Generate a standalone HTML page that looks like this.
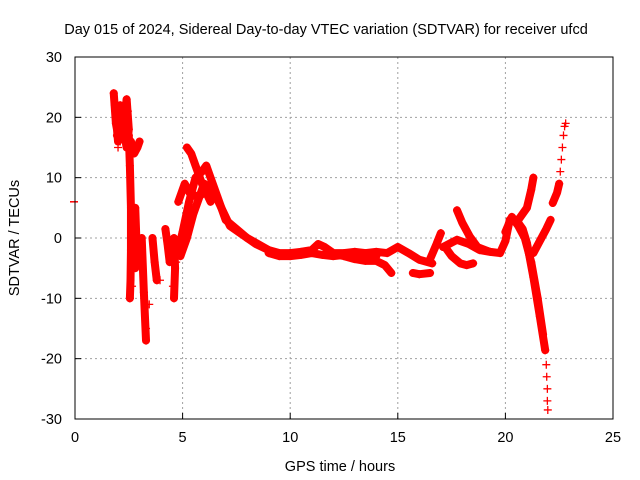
<!DOCTYPE html>
<html><head><meta charset="utf-8"><style>
body{margin:0;background:#fff}
svg{display:block;font-family:"Liberation Sans",sans-serif}
</style></head><body>
<svg id="chart" width="640" height="480" viewBox="0 0 640 480">
<rect width="640" height="480" fill="#fff"/>
<text x="326" y="34" font-size="14.5" text-anchor="middle">Day 015 of 2024, Sidereal Day-to-day VTEC variation (SDTVAR) for receiver ufcd</text>
<g id="grid"></g>
<g id="ticks"></g>
<g id="marks"></g>
<rect x="75" y="57" width="538" height="362" fill="none" stroke="#000" stroke-width="1"/>
<text x="340" y="471" font-size="14.5" text-anchor="middle">GPS time / hours</text>
<text transform="translate(19,238) rotate(-90)" font-size="14.5" text-anchor="middle">SDTVAR / TECUs</text>
</svg>
<script>
const xTicks=[0,5,10,15,20,25];
const yTicks=[-30,-20,-10,0,10,20,30];
const t1=[1.8,1.9,2.0,2.1,2.2,2.3,2.4,2.5,2.4,2.2,2.0,1.9,1.85,2.1,2.3,2.45,2.2,1.95];
const v1=[24,19,17,22,18,20,23,18,15,19,16,20,22,18,17,21,21,17];
const t2=[2.5,2.55,2.6,2.6,2.58,2.55];
const v2=[17,12,5,-2,-7,-10];
const t3=[2.6,2.75,2.9,3.0];
const v3=[16,14,15,16];
const t4=[2.8,2.85,2.8];
const v4=[5,0,-5];
const t5=[3.1,3.2,3.3];
const v5=[0,-9,-17];
const t6=[3.6,3.7,3.8];
const v6=[0,-4,-7];
const t7=[4.2,4.3,4.4];
const v7=[1.5,-1,-4];
const t8=[4.6,4.65,4.6];
const v8=[0,-5,-10];
const t9=[4.8,5.0,5.3,5.6,5.9,6.1,6.3,6.6,7.0,7.5,8.0,8.5,9.0,9.5,10.0];
const v9=[-2,1,6,10,11,12,10,7,3,1.5,0,-1,-2,-2.5,-2.5];
const t9b=[4.9,5.2,5.5,5.8,6.0,6.4,6.8,7.2,7.8,8.4,9.0];
const v9b=[-3,0,4,7,9,8,5,2,0.5,-1,-2];
const t10=[4.8,5.1,5.4,5.8,6.2];
const v10=[6,9,7,7,8];
const t11=[5.2,5.4,5.6,5.9,6.3];
const v11=[15,14,12,9,6];
const t12=[10.0,10.5,11.0,11.3,11.6,12.0,12.5,13.0,13.5,14.0,14.5,15.0];
const v12=[-2.5,-2.3,-2,-1,-1.5,-2.5,-2.5,-2.3,-2.5,-2.3,-2.5,-1.5];
const t12b=[9.0,9.5,10.0,10.5,11.0,11.5,12.0,12.5,13.0,13.5,14.0];
const v12b=[-2.5,-3,-3,-2.8,-2.5,-2.8,-3,-2.8,-3,-3.2,-3];
const t13=[11.8,12.5,13.0,13.5,14.0,14.4,14.7];
const v13=[-2.5,-3,-3.5,-3.8,-3.8,-4.5,-5.8];
const t14=[15.0,15.5,16.0,16.6];
const v14=[-1.5,-2.5,-3.6,-4.2];
const t15=[15.7,16.0,16.5];
const v15=[-5.8,-6,-5.8];
const t16=[16.5,16.8,17.0];
const v16=[-3.5,-1,0.8];
const t17=[17.1,17.75,18.3,18.8,19.3,19.75,20.0,20.2,20.5,20.8,21.0,21.3,21.6,21.85];
const v17=[-1.5,-0.3,-1,-2,-2.3,-2.5,-0.5,3,3,1.5,-0.8,-6.5,-13,-18.6];
const t17b=[20.0,20.3,20.6,20.9,21.2,21.5,21.75];
const v17b=[1,3.5,2,0,-4,-10,-16];
const t18=[17.75,18.0,18.35,18.7,19.2];
const v18=[4.6,2.5,0.2,-1.5,-2.2];
const t19=[17.2,17.5,17.9,18.2,18.5];
const v19=[-1.5,-3,-4.2,-4.5,-4.2];
const t20=[20.6,21.0,21.2,21.3];
const v20=[3,5,8,10];
const t21=[21.3,21.6,21.9,22.1];
const v21=[-2.5,-0.5,1.5,3];
const t22=[22.2,22.4,22.5];
const v22=[5.8,7.5,9];
const t23=[21.9,21.92,21.95,21.95,21.97];
const v23=[-21,-23,-25,-27,-28.5];
const t24=[22.55,22.6,22.65,22.7,22.75,22.8];
const v24=[11,13,15,17,18.5,19];
const t25=[3.95,2.0,2.1,2.65,2.75,3.3,3.45,4.55,4.7];
const v25=[-7,15,16,-8,-3,-15,-11,-8,-4];
const dense=[[t1,v1],[t2,v2],[t3,v3],[t4,v4],[t5,v5],[t6,v6],[t7,v7],[t8,v8],[t9,v9],[t9b,v9b],[t10,v10],[t11,v11],[t12,v12],[t12b,v12b],[t13,v13],[t14,v14],[t15,v15],[t16,v16],[t17,v17],[t17b,v17b],[t18,v18],[t19,v19],[t20,v20],[t21,v21],[t22,v22]];
const sparse=[[t23,v23],[t24,v24],[t25,v25]];
const X=h=>75+h*538/25;
const Y=v=>238-v*362/60;
const NS='http://www.w3.org/2000/svg';
function mk(tag,a,p){const e=document.createElementNS(NS,tag);for(const k in a)e.setAttribute(k,a[k]);p.appendChild(e);return e;}
const grid=document.getElementById('grid'),ticks=document.getElementById('ticks'),marks=document.getElementById('marks');
xTicks.forEach(t=>{const x=X(t);
 if(t>0&&t<25){const g=mk('line',{x1:x,x2:x,y1:57,y2:419,stroke:'#a0a0a0','stroke-dasharray':'2,3'},grid);
 
 }
 const l=mk('line',{x1:x,x2:x,y1:419,y2:413,stroke:'#000'},ticks);
 
 
 const tx=mk('text',{x:x,y:442,'font-size':14.5,'text-anchor':'middle'},ticks);tx.textContent=t;
 
 
});
yTicks.forEach(v=>{const y=Y(v);
 if(v>-30&&v<30){const g=mk('line',{x1:75,x2:613,y1:y,y2:y,stroke:'#a0a0a0','stroke-dasharray':'2,3'},grid);
 
 }
 const l=mk('line',{x1:75,x2:81,y1:y,y2:y,stroke:'#000'},ticks);
 
 
 const tx=mk('text',{x:62,y:y+5,'font-size':14.5,'text-anchor':'end'},ticks);tx.textContent=v;
 
 
});
function plus(x,y){const p=mk('path',{d:`M${x-4},${y}h8M${x},${y-4}v8`,stroke:'#f00','stroke-width':1.3,fill:'none'},marks);
 
 }
dense.forEach(([ts,vs])=>{
 const pl=mk('polyline',{points:ts.map((t,i)=>X(t)+','+Y(vs[i])).join(' '),stroke:'#f00','stroke-width':8,fill:'none','stroke-linejoin':'round','stroke-linecap':'round'},marks);
 
 
 ts.forEach((t,i)=>plus(X(t),Y(vs[i])));
});
sparse.forEach(([ts,vs])=>ts.forEach((t,i)=>plus(X(t),Y(vs[i]))));
const d=mk('line',{x1:70,x2:78,y1:Y(6),y2:Y(6),stroke:'#f00','stroke-width':1.5},marks);


</script>
</body></html>
